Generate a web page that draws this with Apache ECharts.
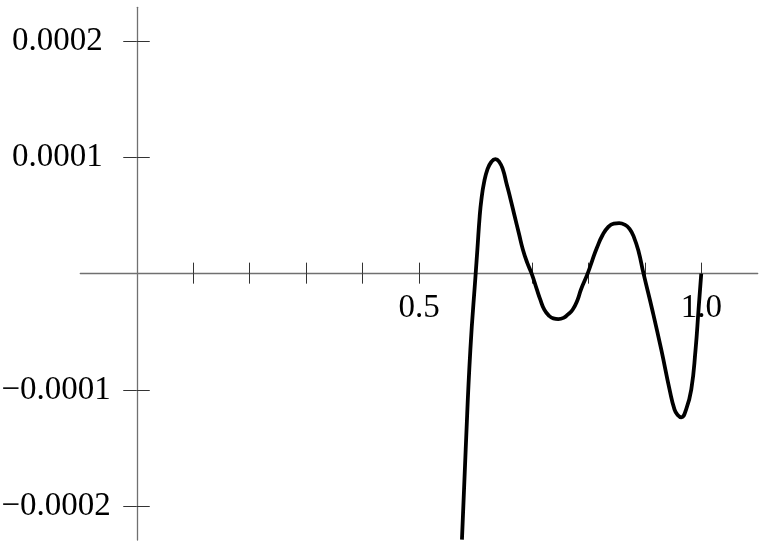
<!DOCTYPE html>
<html>
<head>
<meta charset="utf-8">
<script src="https://cdn.jsdelivr.net/npm/echarts@6/dist/echarts.min.js"></script>
<style>
html,body{margin:0;padding:0;background:#fff;}
#chart{width:766px;height:543px;}
</style>
</head>
<body>
<div id="chart"></div>
<script>
// x values
var xs = [0.5761, 0.5827, 0.5910, 0.6004, 0.6034, 0.6075, 0.6105, 0.6151, 0.6211, 0.6280,
          0.6353, 0.6420, 0.6487, 0.6548, 0.6624, 0.6695, 0.6770, 0.6841, 0.6920, 0.6996,
          0.7089, 0.7149, 0.7220, 0.7300, 0.7380, 0.7468, 0.7560, 0.7640, 0.7721, 0.7810,
          0.7868, 0.7987, 0.8070, 0.8150, 0.8250, 0.8350, 0.8450, 0.8545, 0.8640, 0.8730,
          0.8810, 0.8890, 0.8978, 0.9132, 0.9292, 0.9439, 0.9527, 0.9586, 0.9646, 0.9731,
          0.9823, 0.9899, 0.9952, 1.0000];
// y values (units of 1e-4)
var ysE4 = [-2.287, -1.513, -0.653, 0, 0.206, 0.493, 0.636, 0.780, 0.894, 0.960,
            0.985, 0.962, 0.894, 0.780, 0.636, 0.493, 0.345, 0.206, 0.090, 0,
            -0.138, -0.224, -0.310, -0.360, -0.385, -0.391, -0.380, -0.350, -0.310, -0.224,
            -0.138, 0, 0.115, 0.220, 0.330, 0.400, 0.430, 0.434, 0.422, 0.385,
            0.310, 0.190, 0, -0.310, -0.654, -0.997, -1.169, -1.217, -1.235, -1.169,
            -0.997, -0.654, -0.310, 0];
var xTicks = [0.1, 0.2, 0.3, 0.4, 0.5, 0.6, 0.7, 0.8, 0.9, 1.0];
var xLabels = [0.5, 1.0];
var yTicks = [-0.0002, -0.0001, 0.0001, 0.0002];
var yLabels = [-0.0002, -0.0001, 0.0001, 0.0002];

var data = xs.map(function (x, i) { return [x, ysE4[i] * 1e-4]; });

var FONT = 'Liberation Serif';
var lineColor = '#707070';
var tickColor = '#333333';

function yfmt(v) {
  var s = Math.abs(v).toFixed(4);
  return v < 0 ? '{n|\u2212' + s + '}' : '{p|' + s + '}';
}

var chart = echarts.init(document.getElementById('chart'), null, {renderer: 'canvas'});
chart.setOption({
  animation: false,
  backgroundColor: '#ffffff',
  grid: {left: 80.3, right: 8.3, top: 7.3, bottom: 3, containLabel: false, outerBoundsMode: 'none'},
  xAxis: [{
    type: 'value', min: -0.1, max: 1.1,
    axisLine: {show: true, onZero: true, onZeroAxisIndex: 0, lineStyle: {color: lineColor, width: 1.3}},
    axisTick: {show: true, inside: false, length: 10, customValues: xTicks, lineStyle: {color: tickColor, width: 1}},
    axisLabel: {show: true, customValues: xLabels, margin: -248, fontFamily: FONT, fontSize: 33, lineHeight: 33, color: '#000',
      formatter: function (v) { return v.toFixed(1); }},
    splitLine: {show: false}
  }, {
    type: 'value', min: -0.1, max: 1.1,
    axisLine: {show: false, onZero: true, onZeroAxisIndex: 1},
    axisTick: {show: true, inside: false, length: 11, customValues: xTicks, lineStyle: {color: tickColor, width: 1}},
    axisLabel: {show: false},
    splitLine: {show: false}
  }],
  yAxis: [{
    type: 'value', min: -0.000229, max: 0.000229,
    axisLine: {show: true, onZero: true, onZeroAxisIndex: 0, lineStyle: {color: lineColor, width: 1.3}},
    axisTick: {show: true, inside: false, length: 13.5, customValues: yTicks, lineStyle: {color: tickColor, width: 1}},
    axisLabel: {show: true, customValues: yLabels, margin: -30.5, fontFamily: FONT, fontSize: 33, color: '#000', formatter: yfmt,
      rich: {
        n: {fontFamily: FONT, fontSize: 33, color: '#000', lineHeight: 33},
        p: {fontFamily: FONT, fontSize: 33, color: '#000', lineHeight: 33, padding: [0, 8, 0, 0]}
      }},
    splitLine: {show: false}
  }, {
    type: 'value', min: -0.000229, max: 0.000229,
    axisLine: {show: false, onZero: true, onZeroAxisIndex: 1},
    axisTick: {show: true, inside: false, length: 13, customValues: yTicks, lineStyle: {color: tickColor, width: 1}},
    axisLabel: {show: false},
    splitLine: {show: false}
  }],
  series: [{
    type: 'line',
    xAxisIndex: 0, yAxisIndex: 0,
    data: data,
    showSymbol: false,
    smooth: 0.5,
    clip: true,
    lineStyle: {color: '#000', width: 3.8},
    silent: true
  }]
});
</script>
</body>
</html>
